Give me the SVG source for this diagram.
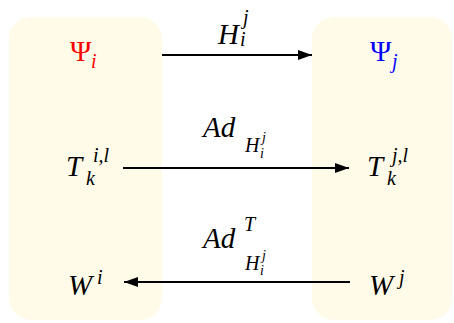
<svg xmlns="http://www.w3.org/2000/svg" width="454" height="323" viewBox="0 0 454 323">
<defs>
<marker id="ah" markerUnits="userSpaceOnUse" markerWidth="16" markerHeight="12" refX="14" refY="6" orient="auto">
<path d="M0,1 L14,6 L0,11 Z" fill="#000"/>
</marker>
</defs>
<rect x="9" y="17" width="153" height="303" rx="22" fill="#FFFBE8"/>
<rect x="312" y="17" width="140" height="303" rx="22" fill="#FFFBE8"/>
<g id="connectors" stroke="#000" stroke-width="1.8" fill="none">
<line x1="162" y1="55" x2="312" y2="55" marker-end="url(#ah)"/>
<line x1="123" y1="168" x2="349" y2="168" marker-end="url(#ah)"/>
<line x1="350" y1="282" x2="124" y2="282" marker-end="url(#ah)"/>
</g>
<g id="node-i" font-family="Times New Roman, Liberation Serif, serif" font-style="italic">
<text x="70" y="61" font-family="Times New Roman, Liberation Serif, serif" font-style="normal" font-size="29" fill="#f00">&#936;</text>
<text x="91" y="68" font-family="Times New Roman, Liberation Serif, serif" font-style="italic" font-size="20" fill="#f00">i</text>
<text x="66" y="176" font-family="Times New Roman, Liberation Serif, serif" font-style="italic" font-size="29">T</text>
<text x="93" y="162" font-family="Times New Roman, Liberation Serif, serif" font-style="italic" font-size="20">i,l</text>
<text x="86" y="185" font-family="Times New Roman, Liberation Serif, serif" font-style="italic" font-size="20">k</text>
<text x="68" y="295" font-family="Times New Roman, Liberation Serif, serif" font-style="italic" font-size="29">W</text>
<text x="97" y="284" font-family="Times New Roman, Liberation Serif, serif" font-style="italic" font-size="20">i</text>
</g>
<g id="node-j" font-family="Times New Roman, Liberation Serif, serif" font-style="italic">
<text x="370" y="61" font-family="Times New Roman, Liberation Serif, serif" font-style="normal" font-size="29" fill="#00f">&#936;</text>
<text x="392" y="68" font-family="Times New Roman, Liberation Serif, serif" font-style="italic" font-size="20" fill="#00f">j</text>
<text x="367" y="176" font-family="Times New Roman, Liberation Serif, serif" font-style="italic" font-size="29">T</text>
<text x="392" y="162" font-family="Times New Roman, Liberation Serif, serif" font-style="italic" font-size="20">j,l</text>
<text x="387" y="185" font-family="Times New Roman, Liberation Serif, serif" font-style="italic" font-size="20">k</text>
<text x="369" y="295" font-family="Times New Roman, Liberation Serif, serif" font-style="italic" font-size="29">W</text>
<text x="399" y="284" font-family="Times New Roman, Liberation Serif, serif" font-style="italic" font-size="20">j</text>
</g>
<g id="labels" font-family="Times New Roman, Liberation Serif, serif" font-style="italic" fill="#000">
<text x="218" y="44" font-family="Times New Roman, Liberation Serif, serif" font-size="29">H</text>
<text x="243" y="24" font-family="Times New Roman, Liberation Serif, serif" font-size="20">j</text>
<text x="240" y="46" font-family="Times New Roman, Liberation Serif, serif" font-size="20">i</text>
<text x="203" y="137" font-family="Times New Roman, Liberation Serif, serif" font-size="29">Ad</text>
<text x="245" y="152" font-family="Times New Roman, Liberation Serif, serif" font-size="20">H</text>
<text x="262" y="142" font-family="Times New Roman, Liberation Serif, serif" font-size="14">j</text>
<text x="260" y="158" font-family="Times New Roman, Liberation Serif, serif" font-size="14">i</text>
<text x="203" y="248" font-family="Times New Roman, Liberation Serif, serif" font-size="29">Ad</text>
<text x="244" y="231" font-family="Times New Roman, Liberation Serif, serif" font-size="20">T</text>
<text x="245" y="270" font-family="Times New Roman, Liberation Serif, serif" font-size="20">H</text>
<text x="262" y="260" font-family="Times New Roman, Liberation Serif, serif" font-size="14">j</text>
<text x="260" y="275" font-family="Times New Roman, Liberation Serif, serif" font-size="14">i</text>
</g>
</svg>
